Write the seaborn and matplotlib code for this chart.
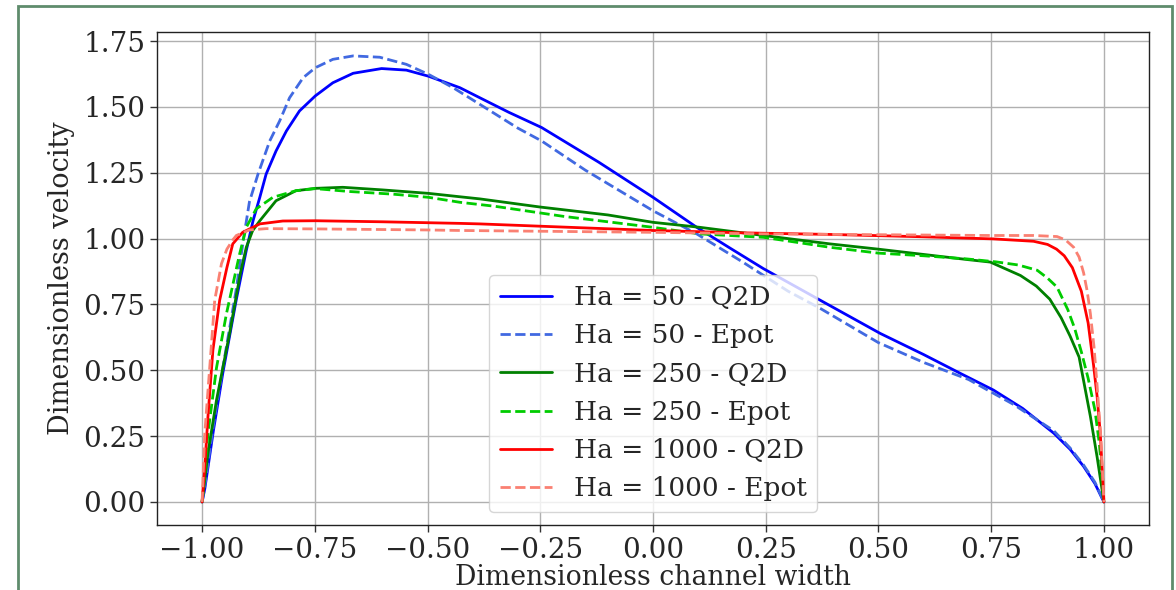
import numpy as np
import pandas as pd
import matplotlib
matplotlib.use("Agg")
import matplotlib.pyplot as plt
import matplotlib.ticker as mticker
import seaborn as sns
from matplotlib.patches import Rectangle

# ---- data ----
x_50_q2d = [-1.0, -0.994, -0.975, -0.954, -0.924, -0.902, -0.887, -0.872, -0.858, -0.836, -0.813, -0.784,
            -0.749, -0.710, -0.665, -0.602, -0.547, -0.498, -0.428, -0.384, -0.32, -0.247, -0.12, 0.0,
            0.097, 0.17, 0.245, 0.371, 0.504, 0.60, 0.682, 0.755, 0.82, 0.889, 0.925, 0.955, 0.98, 1.0]
y_50_q2d = [0.0, 0.05, 0.27, 0.49, 0.77, 0.955, 1.068, 1.157, 1.245, 1.333, 1.409, 1.485,
            1.542, 1.592, 1.628, 1.646, 1.640, 1.617, 1.573, 1.535, 1.48, 1.422, 1.29, 1.157,
            1.043, 0.965, 0.886, 0.766, 0.64, 0.56, 0.488, 0.425, 0.355, 0.261, 0.20, 0.135, 0.07, 0.0]

x_50_epot = [-1.0, -0.994, -0.975, -0.954, -0.925, -0.908, -0.895, -0.876, -0.850, -0.828, -0.806, -0.776,
             -0.749, -0.710, -0.665, -0.606, -0.547, -0.498, -0.443, -0.384, -0.30, -0.247, -0.15, 0.0,
             0.097, 0.20, 0.30, 0.371, 0.50, 0.60, 0.70, 0.80, 0.889, 0.925, 0.955, 0.98, 1.0]
y_50_epot = [0.0, 0.06, 0.29, 0.51, 0.80, 1.0, 1.14, 1.245, 1.371, 1.447, 1.535, 1.611,
             1.649, 1.681, 1.694, 1.689, 1.662, 1.624, 1.573, 1.51, 1.42, 1.371, 1.26, 1.106,
             1.018, 0.91, 0.80, 0.735, 0.605, 0.53, 0.465, 0.37, 0.27, 0.205, 0.14, 0.075, 0.0]

x_250_q2d = [-1.0, -0.987, -0.968, -0.939, -0.915, -0.902, -0.888, -0.872, -0.836, -0.792, -0.749, -0.688,
             -0.599, -0.498, -0.428, -0.384, -0.25, -0.10, 0.0, 0.104, 0.245, 0.393, 0.50, 0.60, 0.70,
             0.748, 0.815, 0.85, 0.88, 0.905, 0.925, 0.945, 0.97, 0.985, 1.0]
y_250_q2d = [0.0, 0.186, 0.387, 0.64, 0.87, 0.967, 1.03, 1.068, 1.144, 1.182, 1.191, 1.195,
             1.185, 1.172, 1.159, 1.151, 1.12, 1.09, 1.062, 1.043, 1.012, 0.98, 0.96, 0.94, 0.92,
             0.911, 0.86, 0.82, 0.77, 0.70, 0.63, 0.55, 0.325, 0.17, 0.0]

x_250_epot = [-1.0, -0.987, -0.968, -0.946, -0.917, -0.902, -0.880, -0.843, -0.792, -0.749, -0.673, -0.577,
              -0.498, -0.428, -0.351, -0.20, 0.0, 0.104, 0.245, 0.393, 0.50, 0.60, 0.696, 0.76, 0.81,
              0.852, 0.875, 0.896, 0.92, 0.935, 0.95, 0.965, 0.98, 0.99, 1.0]
y_250_epot = [0.0, 0.26, 0.51, 0.715, 0.94, 1.043, 1.113, 1.157, 1.182, 1.19, 1.179, 1.169,
              1.157, 1.138, 1.123, 1.085, 1.043, 1.018, 1.005, 0.967, 0.945, 0.935, 0.923, 0.912, 0.90,
              0.88, 0.85, 0.816, 0.73, 0.66, 0.57, 0.47, 0.35, 0.22, 0.0]

x_1000_q2d = [-1.0, -0.994, -0.987, -0.976, -0.961, -0.945, -0.932, -0.910, -0.872, -0.821, -0.749, -0.60,
              -0.428, -0.384, -0.20, 0.0, 0.20, 0.393, 0.60, 0.755, 0.844, 0.875, 0.895, 0.912, 0.93,
              0.95, 0.965, 0.977, 0.985, 0.992, 1.0]
y_1000_q2d = [0.0, 0.135, 0.324, 0.577, 0.766, 0.89, 0.98, 1.024, 1.056, 1.067, 1.068, 1.064,
              1.058, 1.056, 1.044, 1.031, 1.022, 1.016, 1.007, 0.999, 0.99, 0.978, 0.96, 0.935, 0.89,
              0.80, 0.68, 0.52, 0.40, 0.26, 0.0]

x_1000_epot = [-1.0, -0.994, -0.983, -0.972, -0.957, -0.945, -0.932, -0.924, -0.895, -0.858, -0.749, -0.50,
               -0.428, 0.0, 0.25, 0.50, 0.75, 0.844, 0.896, 0.915, 0.933, 0.945, 0.955, 0.963, 0.97,
               0.978, 0.985, 0.993, 1.0]
y_1000_epot = [0.0, 0.262, 0.513, 0.766, 0.905, 0.96, 0.995, 1.012, 1.033, 1.038, 1.037, 1.033,
               1.031, 1.024, 1.018, 1.015, 1.012, 1.012, 1.008, 0.995, 0.967, 0.93, 0.87, 0.80, 0.715,
               0.59, 0.44, 0.25, 0.0]

labels = ["Ha = 50 - Q2D", "Ha = 50 - Epot", "Ha = 250 - Q2D",
          "Ha = 250 - Epot", "Ha = 1000 - Q2D", "Ha = 1000 - Epot"]
colors = ["blue", "royalblue", "green", "#00cc00", "red", "salmon"]
styles = ["-", "--", "-", "--", "-", "--"]

x_ticks = [-1.0, -0.75, -0.5, -0.25, 0.0, 0.25, 0.5, 0.75, 1.0]
y_ticks = [0.0, 0.25, 0.5, 0.75, 1.0, 1.25, 1.5, 1.75]

series = [(x_50_q2d, y_50_q2d), (x_50_epot, y_50_epot), (x_250_q2d, y_250_q2d),
          (x_250_epot, y_250_epot), (x_1000_q2d, y_1000_q2d), (x_1000_epot, y_1000_epot)]

sns.set_theme(style="ticks")
plt.rcParams["font.family"] = ["DejaVu Serif"]
plt.rcParams["font.size"] = 20
plt.rcParams["axes.unicode_minus"] = True

fig = plt.figure(figsize=(11.76, 5.9), dpi=100)
ax = fig.add_axes([157 / 1176, 65 / 590, (1149 - 157) / 1176, (525 - 32) / 590])

for (xs, ys), lab, col, ls in zip(series, labels, colors, styles):
    df = pd.DataFrame({"x": xs, "y": ys})
    sns.lineplot(data=df, x="x", y="y", ax=ax, color=col, linestyle=ls, linewidth=2,
                 label=lab, sort=False, estimator=None)

fmt = mticker.FuncFormatter(lambda v, p: f"{v:.2f}".replace("-", "\u2212"))
ax.set_xlim(-1.1, 1.1)
ax.set_ylim(-0.0875, 1.7848)
ax.set_xticks(x_ticks)
ax.set_yticks(y_ticks)
ax.xaxis.set_major_formatter(fmt)
ax.yaxis.set_major_formatter(fmt)
ax.tick_params(labelsize=20, direction="out", length=5, width=1, color="#333333")
ax.grid(True, color="#b0b0b0", linewidth=1)
for s in ax.spines.values():
    s.set_color("#222222")
    s.set_linewidth(1)
ax.set_xlabel("Dimensionless channel width", fontsize=19.2, labelpad=0)
ax.set_ylabel("Dimensionless velocity", fontsize=19.5, labelpad=6)
ax.legend(loc="lower center", fontsize=19, frameon=True, framealpha=0.8,
          edgecolor="#cccccc", handlelength=2.0)

# outer frame
fig.patches.append(Rectangle((18 / 1176, -0.05), (1172 - 18) / 1176, 1.05 - 6 / 590,
                             transform=fig.transFigure, fill=False,
                             edgecolor="#5f8c6c", linewidth=2))

fig.savefig("out.png", dpi=100)
